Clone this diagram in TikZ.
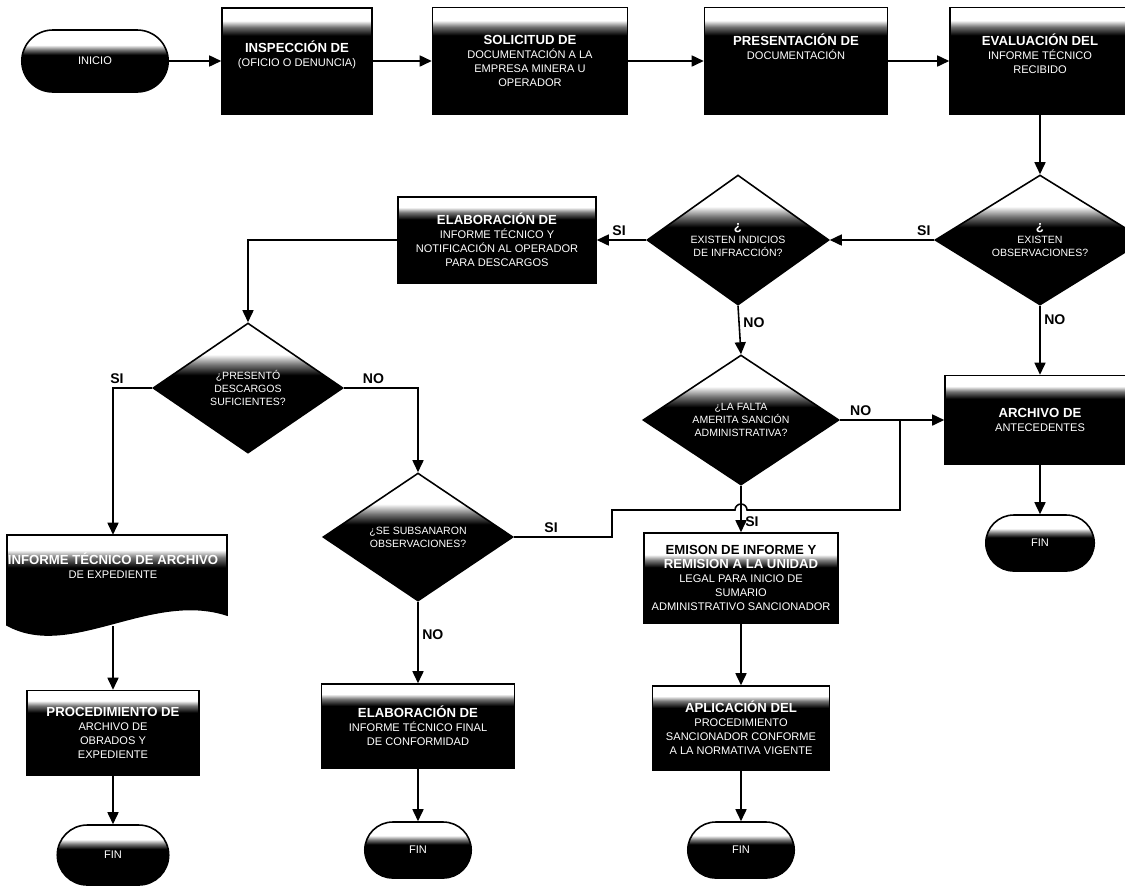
\documentclass[tikz,border=0pt]{standalone}
\usepackage{fontspec}
\setmainfont{Liberation Sans}
\usetikzlibrary{shapes.geometric,shapes.misc,arrows.meta,calc}
\pgfdeclareverticalshading{scanbox}{100bp}{color(0bp)=(black); color(25bp)=(black); color(62bp)=(black); color(66bp)=(black!55); color(69bp)=(white); color(100bp)=(white)}
\pgfdeclareverticalshading{scanboxw}{100bp}{color(0bp)=(black); color(25bp)=(black); color(56bp)=(black); color(60bp)=(black!50); color(63bp)=(white); color(100bp)=(white)}
\pgfdeclareverticalshading{scandiam}{100bp}{color(0bp)=(black); color(25bp)=(black); color(55bp)=(black); color(59bp)=(black!55); color(63bp)=(white); color(100bp)=(white)}
\newcommand{\bxhead}[1]{{\fontsize{7.5}{9}\selectfont\bfseries #1}}
\tikzset{
  base/.style={draw=black, line width=0.9pt, text=white, align=center, inner sep=1pt,
    font=\fontsize{6.3}{8}\selectfont},
  procbox/.style={base, rectangle, shade, shading=scanbox},
  procboxw/.style={base, rectangle, shade, shading=scanboxw},
  decision/.style={base, diamond, aspect=1.5, shade, shading=scandiam, inner sep=0pt,
    font=\fontsize{6}{7.5}\selectfont},
  term/.style={base, rounded rectangle, shade, shading=scandiam},
  wire/.style={line width=0.9pt},
  conn/.style={line width=0.9pt, -{Triangle[length=2.4mm,width=2.2mm]}},
  lbl/.style={font=\fontsize{8}{9}\selectfont\bfseries, text=black, inner sep=2pt}
}
\begin{document}
\begin{tikzpicture}[x=0.02cm,y=-0.02cm]
\useasboundingbox (0,0) rectangle (1125,894);

% top row
\node[term, minimum width=3.0cm, minimum height=1.24cm] (inicio) at (95,61) {INICIO};
\node[procbox, minimum width=3.0cm, minimum height=2.12cm] (b2) at (297,61)
  {\bxhead{INSPECCIÓN DE}\\(OFICIO O DENUNCIA)\\ };
\node[procbox, minimum width=3.9cm, minimum height=2.14cm] (b3) at (530,61)
  {\bxhead{SOLICITUD DE}\\DOCUMENTACIÓN A LA\\EMPRESA MINERA U\\OPERADOR};
\node[procbox, minimum width=3.66cm, minimum height=2.14cm] (b4) at (796,61)
  {\bxhead{PRESENTACIÓN DE}\\DOCUMENTACIÓN\\ \\ };
\node[procbox, minimum width=3.6cm, minimum height=2.14cm] (b5) at (1040,61)
  {\bxhead{EVALUACIÓN DEL}\\INFORME TÉCNICO\\RECIBIDO\\ };

% decisions row 1
\node[decision, minimum width=4.2cm, minimum height=2.6cm] (d1) at (1040,240)
  {\bxhead{¿}\\EXISTEN\\OBSERVACIONES?};
\node[decision, minimum width=3.64cm, minimum height=2.6cm] (d2) at (738,240)
  {\bxhead{¿}\\EXISTEN INDICIOS\\DE INFRACCIÓN?};
\node[procbox, minimum width=3.96cm, minimum height=1.72cm] (elab) at (497,240)
  {\bxhead{ELABORACIÓN DE}\\INFORME TÉCNICO Y\\NOTIFICACIÓN AL OPERADOR\\PARA DESCARGOS};

% left decisions
\node[decision, minimum width=3.8cm, minimum height=2.6cm] (d3) at (248,388)
  {¿PRESENTÓ\\DESCARGOS\\SUFICIENTES?};
\node[decision, minimum width=3.8cm, minimum height=2.56cm] (d4) at (418,537)
  {¿SE SUBSANARON\\OBSERVACIONES?};
\node[decision, minimum width=3.92cm, minimum height=2.6cm] (d5) at (741,420)
  {¿LA FALTA\\AMERITA SANCIÓN\\ADMINISTRATIVA?};

\node[procbox, minimum width=3.8cm, minimum height=1.78cm] (b6) at (1040,420)
  {\bxhead{ARCHIVO DE}\\ANTECEDENTES};
\node[term, minimum width=2.24cm, minimum height=1.12cm] (fin4) at (1040,543) {FIN};

% document shape
\path[draw=black, line width=0.9pt, shade, shading=scanbox]
  (7,535) -- (227,535) -- (227,615) .. controls (150,590) and (70,660) .. (7,625) -- cycle;
\node[base, draw=none, rectangle, minimum width=4.4cm, minimum height=1.78cm] (doc) at (113,580)
  {\bxhead{INFORME TÉCNICO DE ARCHIVO}\\DE EXPEDIENTE\\ \\ };
\coordinate (docbot) at (113,626);

\node[procbox, minimum width=3.44cm, minimum height=1.7cm] (proc) at (113,733)
  {\bxhead{PROCEDIMIENTO DE}\\ARCHIVO DE\\OBRADOS Y\\EXPEDIENTE};
\node[term, minimum width=2.3cm, minimum height=1.2cm] (fin1) at (113,855) {FIN};

\node[procbox, minimum width=3.86cm, minimum height=1.68cm] (elab2) at (418,726)
  {\bxhead{ELABORACIÓN DE}\\INFORME TÉCNICO FINAL\\DE CONFORMIDAD};
\node[term, minimum width=2.2cm, minimum height=1.12cm] (fin2) at (418,850) {FIN};

\node[procboxw, minimum width=3.88cm, minimum height=1.8cm] (emis) at (741,578)
  {\textcolor{black}{\bxhead{EMISON DE INFORME Y}}\\\bxhead{REMISION A LA UNIDAD}\\LEGAL PARA INICIO DE\\SUMARIO\\ADMINISTRATIVO SANCIONADOR};
\node[procbox, minimum width=3.54cm, minimum height=1.68cm] (apl) at (741,728)
  {\bxhead{APLICACIÓN DEL}\\PROCEDIMIENTO\\SANCIONADOR CONFORME\\A LA NORMATIVA VIGENTE};
\node[term, minimum width=2.2cm, minimum height=1.12cm] (fin3) at (741,850) {FIN};

% connectors top row
\draw[conn] (inicio.east) -- (b2.west);
\draw[conn] (b2.east) -- (b3.west);
\draw[conn] (b3.east) -- (b4.west);
\draw[conn] (b4.east) -- (b5.west);
\draw[conn] (b5.south) -- (d1.north);

\draw[conn] (d1.west) -- node[lbl, pos=0.1, above] (l1) {SI} (d2.east);
\draw[conn] (d2.west) -- node[lbl, pos=0.55, above] (l2) {SI} (elab.east);
\draw[conn] (elab.west) -| (d3.north);

\draw[conn] (d3.west) -| node[lbl, pos=0.45, above] (l3) {SI} (doc.north);
\draw[conn] (d3.east) -| node[lbl, pos=0.2, above] (l4) {NO} (d4.north);

\draw[conn] (d2.south) -- node[lbl, pos=0.35, right] (l5) {NO} (d5.north);
\draw[conn] (d1.south) -- node[lbl, pos=0.2, right] (l6) {NO} (b6.north);
\draw[conn] (d5.east) -- node[lbl, pos=0.2, above] (l7) {NO} (b6.west);
\draw[conn] (b6.south) -- (fin4.north);

% SI branch from d4 with line hop
\coordinate (j1) at (612,537);
\coordinate (j2) at (612,510);
\coordinate (j3) at (900,510);
\coordinate (j4) at (900,420);
\draw[wire] (d4.east) -- node[lbl, pos=0.38, above] (l8) {SI} (j1) -- (j2) -- (735,510)
  arc[start angle=180, end angle=360, radius=6] -- (j3) -- (j4);

\draw[conn] (d5.south) -- node[lbl, pos=0.78, right] (l9) {SI} (emis.north);
\draw[conn] (emis.south) -- (apl.north);
\draw[conn] (apl.south) -- (fin3.north);

\draw[conn] (docbot) -- (proc.north);
\draw[conn] (proc.south) -- (fin1.north);

\draw[conn] (d4.south) -- node[lbl, pos=0.4, right] (l10) {NO} (elab2.north);
\draw[conn] (elab2.south) -- (fin2.north);
\end{tikzpicture}
\end{document}
